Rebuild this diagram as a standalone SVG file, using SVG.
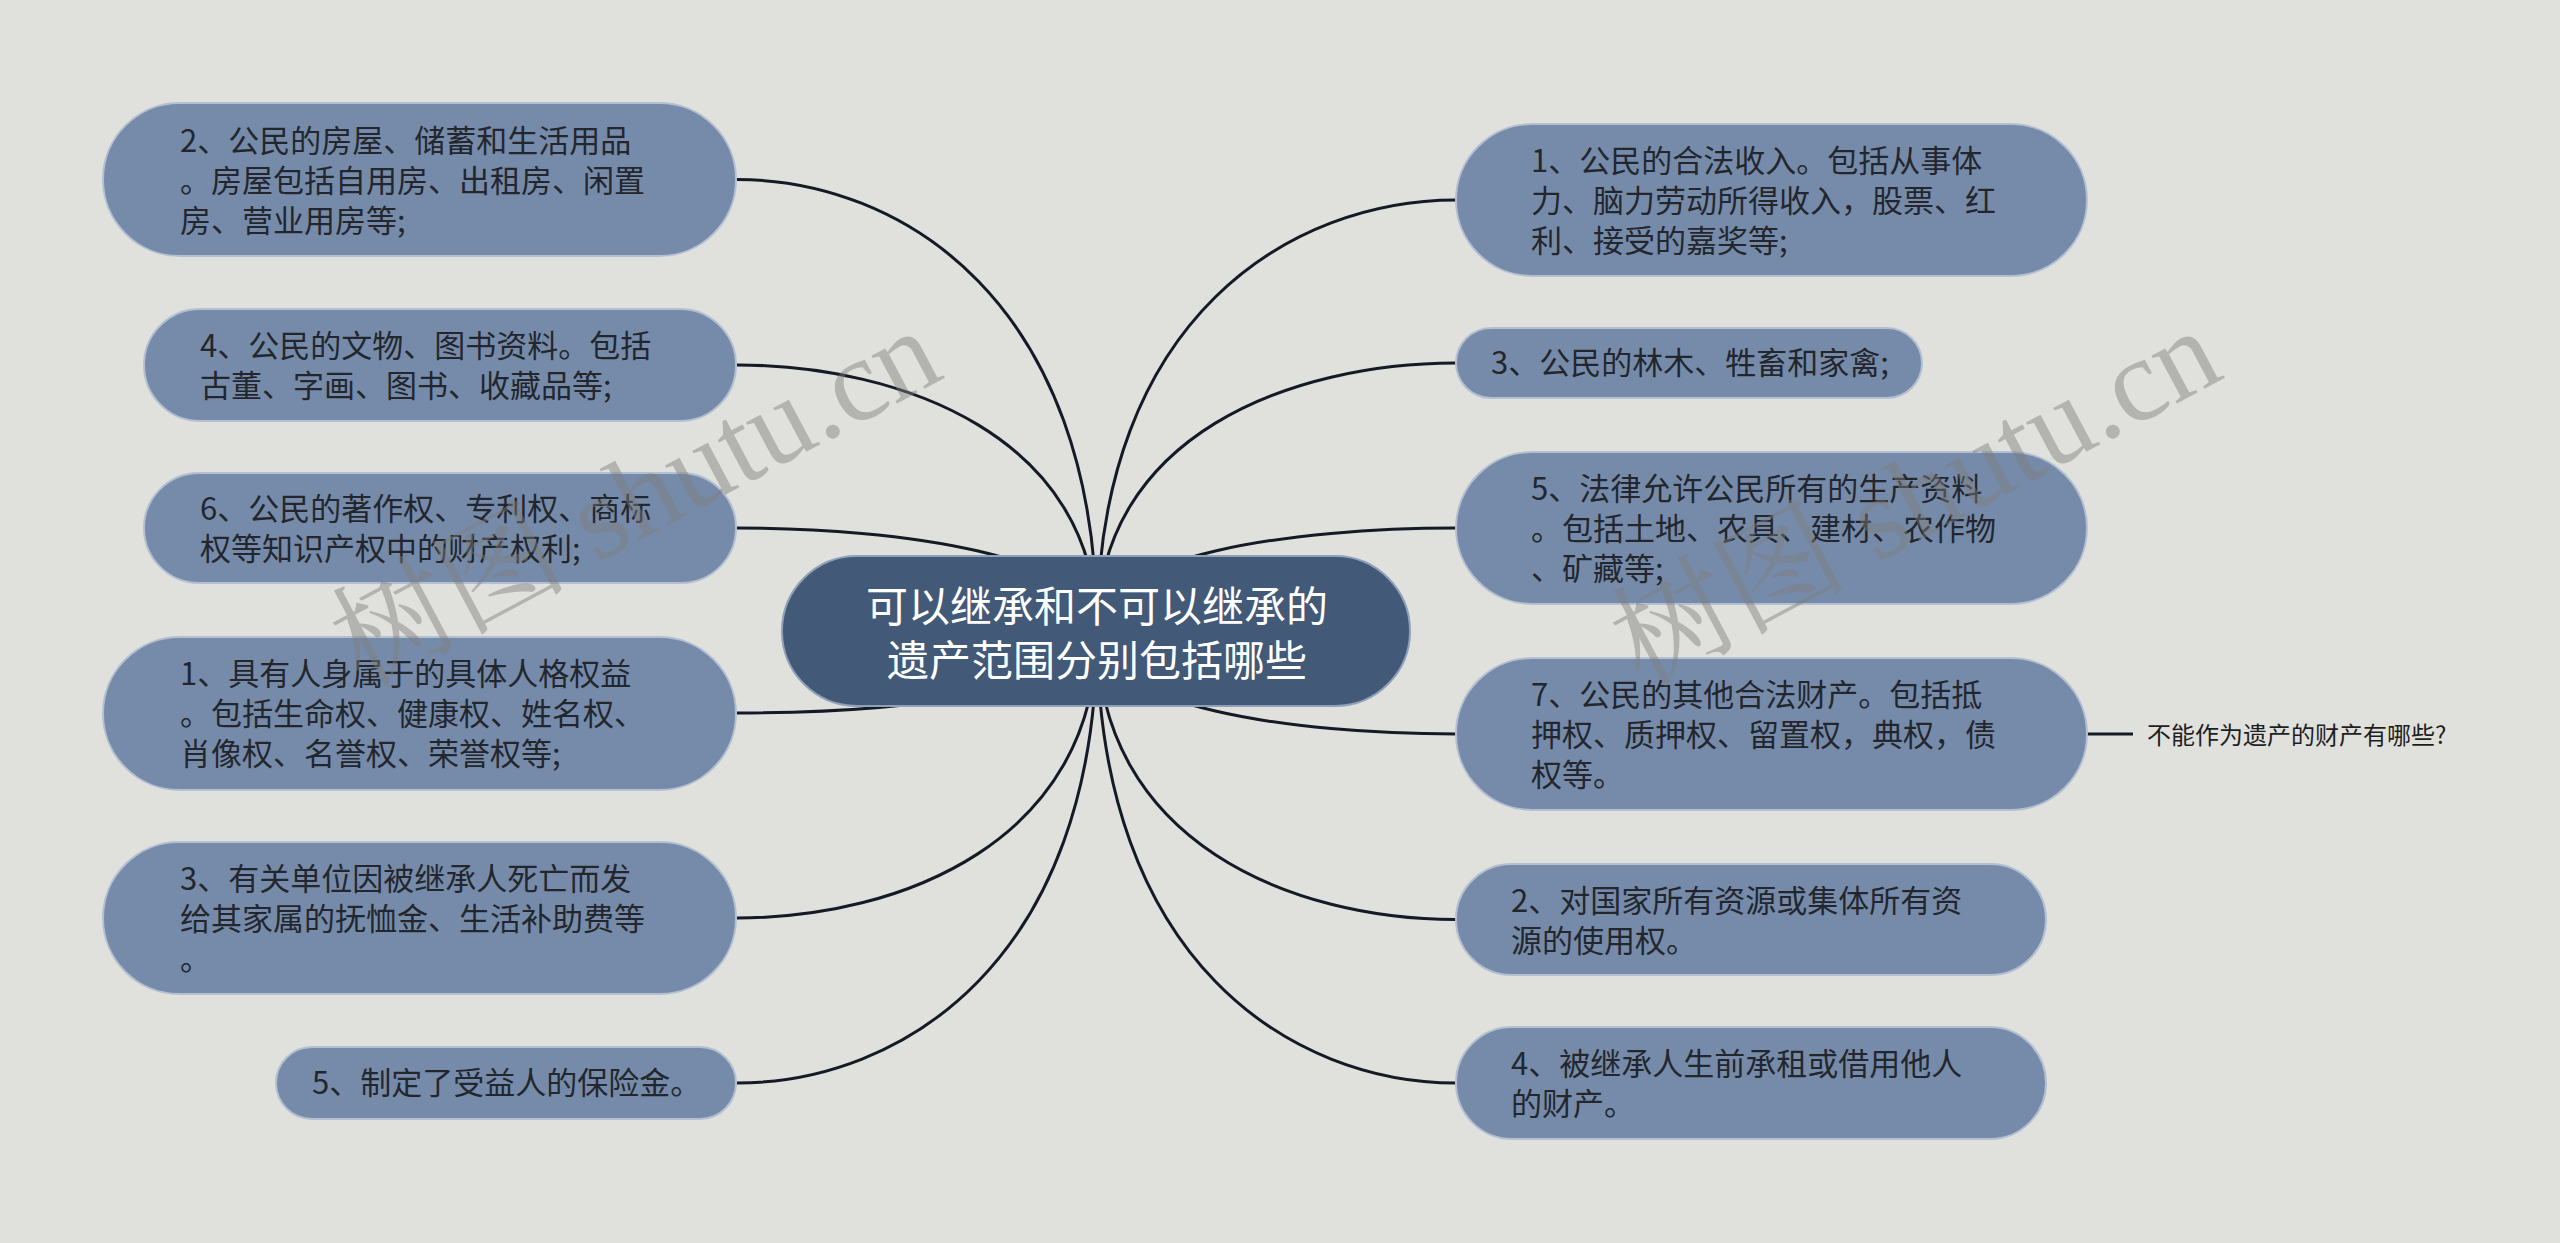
<svg xmlns="http://www.w3.org/2000/svg" width="2560" height="1243" viewBox="0 0 2560 1243">
<style>
.bg{fill:#e0e1dd}
.node rect{fill:#768baa;stroke:#b4c0d2;stroke-width:2}
.node text{font-family:"Noto Sans CJK SC","Microsoft YaHei",sans-serif;font-size:31px;fill:#23272d}
.root rect{fill:#425978;stroke:#8fa0b8;stroke-width:2}
.root text{font-family:"Noto Sans CJK SC",sans-serif;font-size:42px;fill:#ffffff;text-anchor:middle}
.edges path{fill:none;stroke:#141b26;stroke-width:3}
.label{font-family:"Noto Sans CJK SC",sans-serif;font-size:24px;fill:#1e1e1e}
.wm{font-family:"Liberation Serif","Noto Serif CJK SC","Noto Sans CJK SC",serif;font-size:118px;fill:#7d7d7a;opacity:0.45}
</style>
<rect class="bg" x="0" y="0" width="2560" height="1243"/>
<g id="connectors" class="edges">
<path d="M737 179.5 C900 179.5 1097 299.5 1097 631"/>
<path d="M737 365 C900 365 1097 436 1097 631"/>
<path d="M737 528 C900 528 1097 555 1097 631"/>
<path d="M737 713 C900 713 1097 691 1097 631"/>
<path d="M737 918 C900 918 1097 842 1097 631"/>
<path d="M737 1083 C900 1083 1097 963 1097 631"/>
<path d="M1456 200 C1293 200 1097 315 1097 631"/>
<path d="M1456 363 C1293 363 1097 434 1097 631"/>
<path d="M1456 528 C1293 528 1097 555 1097 631"/>
<path d="M1456 734 C1293 734 1097 707 1097 631"/>
<path d="M1456 919.5 C1293 919.5 1097 843 1097 631"/>
<path d="M1456 1083 C1293 1083 1097 963 1097 631"/>
<path d="M2087 734 L2133 734"/>
</g>
<g id="root" class="root">
<rect x="782" y="556" width="628" height="150" rx="75"/>
<text x="1097" y="622">可以继承和不可以继承的</text>
<text x="1097" y="676">遗产范围分别包括哪些</text>
</g>
<g id="L1" class="node">
<rect x="103" y="103" width="633" height="153" rx="76.5"/>
<text x="180" y="151.5">2、公民的房屋、储蓄和生活用品</text>
<text x="180" y="191.5">。房屋包括自用房、出租房、闲置</text>
<text x="180" y="231.5">房、营业用房等;</text>
</g>
<g id="L2" class="node">
<rect x="144" y="309" width="592" height="112" rx="56"/>
<text x="200" y="357">4、公民的文物、图书资料。包括</text>
<text x="200" y="397">古董、字画、图书、收藏品等;</text>
</g>
<g id="L3" class="node">
<rect x="144" y="473" width="592" height="110" rx="55"/>
<text x="200" y="520">6、公民的著作权、专利权、商标</text>
<text x="200" y="560">权等知识产权中的财产权利;</text>
</g>
<g id="L4" class="node">
<rect x="103" y="637" width="633" height="153" rx="76.5"/>
<text x="180" y="685">1、具有人身属于的具体人格权益</text>
<text x="180" y="725">。包括生命权、健康权、姓名权、</text>
<text x="180" y="765">肖像权、名誉权、荣誉权等;</text>
</g>
<g id="L5" class="node">
<rect x="103" y="842" width="633" height="152" rx="76"/>
<text x="180" y="890">3、有关单位因被继承人死亡而发</text>
<text x="180" y="930">给其家属的抚恤金、生活补助费等</text>
<text x="180" y="970">。</text>
</g>
<g id="L6" class="node">
<rect x="276" y="1047" width="460" height="72" rx="36"/>
<text x="312" y="1094">5、制定了受益人的保险金。</text>
</g>
<g id="R1" class="node">
<rect x="1456" y="124" width="631" height="152" rx="76"/>
<text x="1531" y="172">1、公民的合法收入。包括从事体</text>
<text x="1531" y="212">力、脑力劳动所得收入，股票、红</text>
<text x="1531" y="252">利、接受的嘉奖等;</text>
</g>
<g id="R2" class="node">
<rect x="1456" y="328" width="466" height="70" rx="35"/>
<text x="1491" y="374">3、公民的林木、牲畜和家禽;</text>
</g>
<g id="R3" class="node">
<rect x="1456" y="452" width="631" height="152" rx="76"/>
<text x="1531" y="500">5、法律允许公民所有的生产资料</text>
<text x="1531" y="540">。包括土地、农具、建材、农作物</text>
<text x="1531" y="580">、矿藏等;</text>
</g>
<g id="R4" class="node">
<rect x="1456" y="658" width="631" height="152" rx="76"/>
<text x="1531" y="706">7、公民的其他合法财产。包括抵</text>
<text x="1531" y="746">押权、质押权、留置权，典权，债</text>
<text x="1531" y="786">权等。</text>
</g>
<g id="R5" class="node">
<rect x="1456" y="864" width="590" height="111" rx="55.5"/>
<text x="1511" y="911.5">2、对国家所有资源或集体所有资</text>
<text x="1511" y="951.5">源的使用权。</text>
</g>
<g id="R6" class="node">
<rect x="1456" y="1027" width="590" height="112" rx="56"/>
<text x="1511" y="1075">4、被继承人生前承租或借用他人</text>
<text x="1511" y="1115">的财产。</text>
</g>
<g id="R4-sub">
<text class="label" x="2147" y="744">不能作为遗产的财产有哪些?</text>
</g>
<text class="wm" x="362" y="688" transform="rotate(-28 362 688)">树图 shutu.cn</text>
<text class="wm" x="1642" y="688" transform="rotate(-28 1642 688)">树图 shutu.cn</text>
</svg>
